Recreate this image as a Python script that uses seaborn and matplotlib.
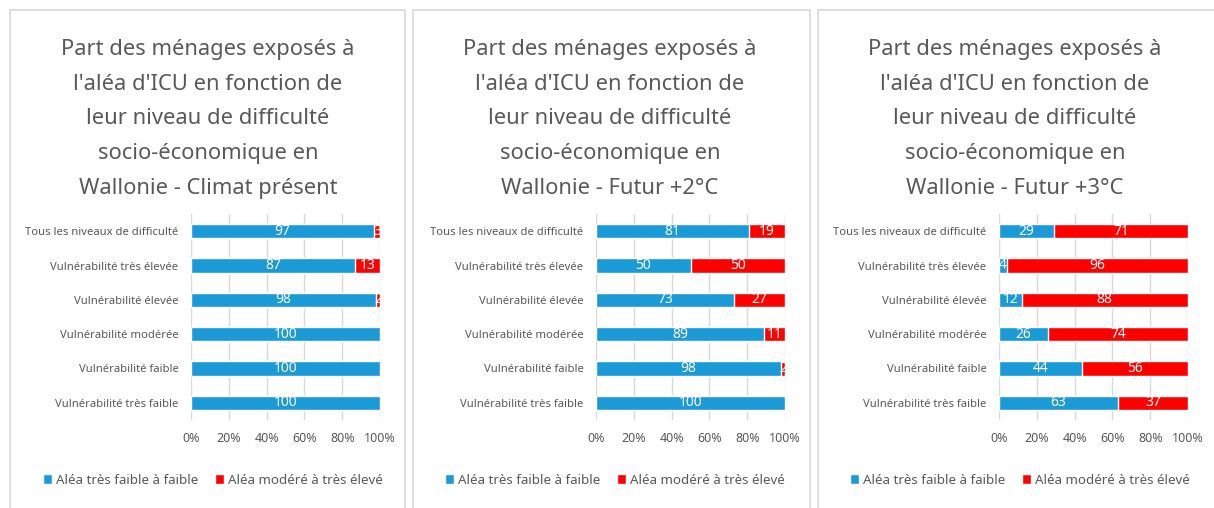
import numpy as np
import pandas as pd
import matplotlib.pyplot as plt
import seaborn as sns
from matplotlib.patches import Rectangle, Patch

# categories (top to bottom)
categories = [
    'Tous les niveaux de difficulté',
    'Vulnérabilité très élevée',
    'Vulnérabilité élevée',
    'Vulnérabilité modérée',
    'Vulnérabilité faible',
    'Vulnérabilité très faible',
]

# scenario titles
titles = [
    "Part des ménages exposés à\nl'aléa d'ICU en fonction de\nleur niveau de difficulté\nsocio-économique en\nWallonie - Climat présent",
    "Part des ménages exposés à\nl'aléa d'ICU en fonction de\nleur niveau de difficulté\nsocio-économique en\nWallonie - Futur +2°C",
    "Part des ménages exposés à\nl'aléa d'ICU en fonction de\nleur niveau de difficulté\nsocio-économique en\nWallonie - Futur +3°C",
]

# share (%) in low hazard / high hazard per scenario
low_present = [97, 87, 98, 100, 100, 100]
high_present = [3, 13, 2, 0, 0, 0]
low_2c = [81, 50, 73, 89, 98, 100]
high_2c = [19, 50, 27, 11, 2, 0]
low_3c = [29, 4, 12, 26, 44, 63]
high_3c = [71, 96, 88, 74, 56, 37]

series_names = ['Aléa très faible à faible', 'Aléa modéré à très élevé']

BLUE = '#1A9AD6'
RED = '#FF0000'
GREY = '#595959'
GRID = '#D9D9D9'

sns.set_style('white')
plt.rcParams['font.family'] = ['Noto Sans', 'DejaVu Sans']

fig = plt.figure(figsize=(12.14, 5.08), dpi=100)

W, H = 1214, 508
panels = [
    (low_present, high_present, 191, 10, 405, 208),
    (low_2c, high_2c, 596, 413, 810, 610),
    (low_3c, high_3c, 999, 818, 1230, 1015),
]

for i, (low, high, x0, p_left, p_right, cx) in enumerate(panels):
    # panel frame
    fig.patches.append(Rectangle((p_left / W, -0.05), (p_right - p_left) / W, (H - 10) / H + 0.05,
                                 transform=fig.transFigure, fill=False,
                                 edgecolor=GRID, linewidth=1.2))

    ax = fig.add_axes([x0 / W, (H - 420) / H, 189 / W, 206 / H])
    df = pd.DataFrame({'cat': categories, 'low': low, 'high': high})
    df['total'] = df['low'] + df['high']

    sns.barplot(data=df, x='total', y='cat', color=RED, width=0.42,
                saturation=1, ax=ax, zorder=2)
    sns.barplot(data=df, x='low', y='cat', color=BLUE, width=0.42,
                saturation=1, ax=ax, zorder=3)

    # value labels
    for j, (lo, hi) in enumerate(zip(low, high)):
        if lo > 0:
            ax.text(lo / 2, j, str(lo), color='white', ha='center', va='center',
                    fontsize=10, zorder=4)
        if hi > 0:
            ax.text(lo + hi / 2, j, str(hi), color='white', ha='center', va='center',
                    fontsize=10, zorder=4)

    ax.set_xlim(0, 100)
    ax.set_ylim(5.5, -0.5)
    ax.set_xticks(np.arange(0, 101, 20))
    ax.set_xticklabels([f'{v}%' for v in range(0, 101, 20)])
    ax.xaxis.grid(True, color=GRID, linewidth=1, zorder=0)
    ax.set_axisbelow(True)
    for s in ax.spines.values():
        s.set_visible(False)
    ax.tick_params(axis='both', length=0, colors=GREY, labelsize=8.1)
    ax.tick_params(axis='x', pad=9, labelsize=9)
    ax.tick_params(axis='y', pad=9)
    ax.set_xlabel('')
    ax.set_ylabel('')

    fig.text(cx / W, 1 - 119 / H, titles[i], ha='center', va='center',
             fontsize=15.8, color=GREY, linespacing=1.86)

    handles = [Patch(facecolor=BLUE), Patch(facecolor=RED)]
    fig.legend(handles, series_names, loc='center', bbox_to_anchor=(cx / W + 0.004, 1 - 480 / H),
               ncol=2, frameon=False, fontsize=9.6, labelcolor=GREY,
               handlelength=0.7, handleheight=0.7, handletextpad=0.3, columnspacing=1.2)

fig.savefig('out.png', dpi=100)
